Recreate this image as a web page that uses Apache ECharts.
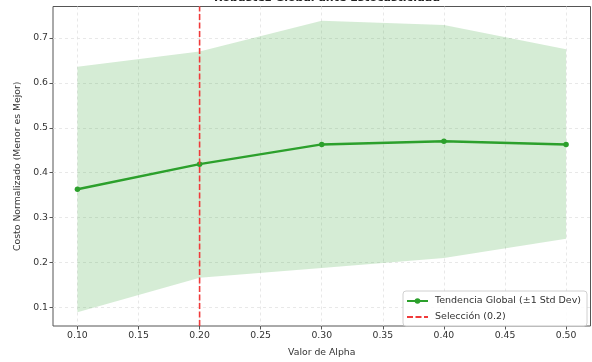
<!DOCTYPE html>
<html>
<head>
<meta charset="utf-8">
<script src="https://cdn.jsdelivr.net/npm/echarts@6/dist/echarts.min.js"></script>
<style>
  html, body { margin: 0; padding: 0; background: #fff; }
  #main { width: 592px; height: 362px; }
</style>
</head>
<body>
<div id="main"></div>
<script>
// datos
var alphas = [0.10, 0.20, 0.30, 0.40, 0.50];
var costoMedio = [0.363, 0.419, 0.463, 0.470, 0.463];
var bandaSup = [0.636, 0.670, 0.738, 0.729, 0.675];
var bandaInf = [0.089, 0.166, 0.188, 0.210, 0.253];
var seleccion = 0.2;
var xTicks = [0.10, 0.15, 0.20, 0.25, 0.30, 0.35, 0.40, 0.45, 0.50];
var yTicks = [0.1, 0.2, 0.3, 0.4, 0.5, 0.6, 0.7];
var yMin = 0.0586, yMax = 0.770;

var font = 'DejaVu Sans';
var gridLine = { show: true, lineStyle: { color: '#e3e3e3', type: [3, 3], width: 0.8 } };
var tickStyle = { color: '#555' };

var chart = echarts.init(document.getElementById('main'));

// banda +-1 std como poligono
function renderBanda(params, api) {
  if (params.dataIndex !== 0) return null;
  var pts = [];
  for (var i = 0; i < alphas.length; i++) pts.push(api.coord([alphas[i], bandaSup[i]]));
  for (var j = alphas.length - 1; j >= 0; j--) pts.push(api.coord([alphas[j], bandaInf[j]]));
  return {
    type: 'polygon',
    shape: { points: pts },
    style: { fill: 'rgba(44,160,44,0.2)' },
    silent: true
  };
}

var option = {
  animation: false,
  title: {
    text: 'Robustez Global ante Estocasticidad',
    left: 322, top: -12, textAlign: 'center',
    textStyle: { fontFamily: font, fontSize: 11, fontWeight: 'bold', color: '#222' }
  },
  grid: {
    left: 53, right: 1.5, top: 6.5, bottom: 34.5,
    show: true, borderColor: '#555', borderWidth: 1
  },
  xAxis: {
    type: 'value', min: 0.08, max: 0.52,
    axisLine: { show: false },
    axisTick: { show: true, length: 3.5, lineStyle: tickStyle, customValues: xTicks },
    axisLabel: {
      fontFamily: font, fontSize: 9.3, color: '#333', margin: 5,
      customValues: xTicks,
      formatter: function (v) { return v.toFixed(2); }
    },
    splitLine: gridLine,
    name: 'Valor de Alpha', nameLocation: 'middle', nameGap: 22,
    nameTextStyle: { fontFamily: font, fontSize: 9.3, color: '#333' }
  },
  yAxis: {
    type: 'value', min: yMin, max: yMax,
    axisLine: { show: false },
    axisTick: { show: true, length: 3.5, lineStyle: tickStyle, customValues: yTicks },
    axisLabel: {
      fontFamily: font, fontSize: 9.3, color: '#333', margin: 5,
      customValues: yTicks,
      formatter: function (v) { return v.toFixed(1); }
    },
    splitLine: gridLine,
    name: 'Costo Normalizado (Menor es Mejor)', nameLocation: 'middle', nameGap: 27,
    nameTextStyle: { fontFamily: font, fontSize: 9.3, color: '#333' }
  },
  legend: {
    data: [
      { name: 'Tendencia Global (±1 Std Dev)' },
      { name: 'Selección (0.2)', itemStyle: { opacity: 0 } }
    ],
    orient: 'vertical', left: 403, top: 291,
    padding: [5, 6, 4, 3], itemGap: 6, itemWidth: 21, itemHeight: 7,
    backgroundColor: 'rgba(255,255,255,0.85)',
    borderColor: '#d0d0d0', borderWidth: 1, borderRadius: 3,
    textStyle: { fontFamily: font, fontSize: 9.5, color: '#333', padding: [0, 0, 0, 2] }
  },
  series: [
    {
      name: 'banda', type: 'custom', renderItem: renderBanda, silent: true,
      data: alphas.map(function (a, i) { return [a, bandaInf[i], bandaSup[i]]; }),
      encode: { x: 0, y: [1, 2] },
      z: 1
    },
    {
      name: 'Tendencia Global (±1 Std Dev)', type: 'line',
      symbol: 'circle', symbolSize: 5.5,
      itemStyle: { color: '#2ca02c' },
      lineStyle: { color: '#2ca02c', width: 2.5 },
      data: alphas.map(function (a, i) { return [a, costoMedio[i]]; }),
      z: 5
    },
    {
      name: 'Selección (0.2)', type: 'line', symbol: 'none',
      itemStyle: { color: '#f03a3a' },
      lineStyle: { color: '#f03a3a', width: 1.6, type: [6, 2.5] },
      data: [[seleccion, yMin], [seleccion, yMax]],
      z: 6
    }
  ]
};

chart.setOption(option);
</script>
</body>
</html>
